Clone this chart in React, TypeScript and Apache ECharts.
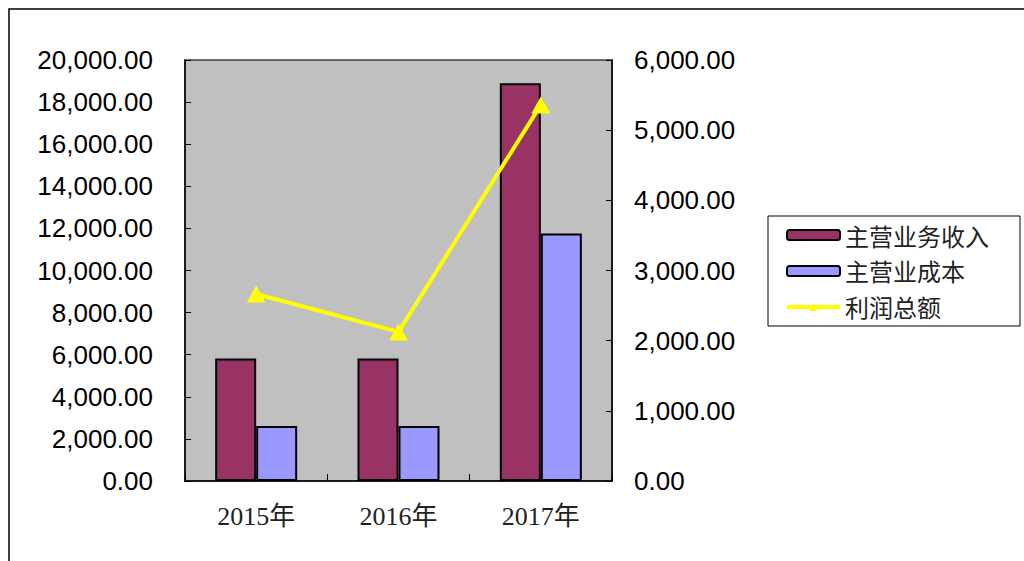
import React, { useEffect, useRef } from "react";
import * as echarts from "echarts";

const categories = ["2015年", "2016年", "2017年"];
const revenue = [5820, 5820, 18890];
const cost = [2615, 2615, 11760];
const profit = [2665, 2125, 5360];
const leftTicks = { min: 0, max: 20000, interval: 2000 };
const rightTicks = { min: 0, max: 6000, interval: 1000 };

const fmt = (v: number) => {
  const s = v.toFixed(2);
  const [i, d] = s.split(".");
  return i.replace(/\B(?=(\d{3})+(?!\d))/g, ",") + "." + d;
};

export default function App() {
  const ref = useRef<HTMLDivElement>(null);
  useEffect(() => {
    if (!ref.current) return;
    const chart = echarts.init(ref.current, undefined, { renderer: "svg" });
    const axisFont = { fontFamily: "Liberation Sans, Arial, sans-serif", fontSize: 26, color: "#000" };
    chart.setOption({
      animation: false,
      backgroundColor: "#fff",
      graphic: [
        {
          type: "rect",
          shape: { x: 9, y: 9, width: 1200, height: 700 },
          style: { fill: "none", stroke: "#000", lineWidth: 1.5 },
          silent: true,
          z: -1,
        },
      ],
      grid: {
        left: 185,
        top: 60,
        width: 427,
        height: 421,
        show: true,
        backgroundColor: "#C0C0C0",
        borderColor: "#404040",
        borderWidth: 1.5,
      },
      legend: {
        orient: "vertical",
        left: 768,
        top: 216,
        padding: [7, 31, 7, 17],
        itemGap: 12,
        itemWidth: 53,
        itemHeight: 10,
        borderColor: "#000",
        borderWidth: 1,
        backgroundColor: "#fff",
        textStyle: { fontFamily: "Noto Sans CJK SC, sans-serif", fontSize: 24, color: "#222" },
        data: [
          { name: "主营业务收入" },
          { name: "主营业成本" },
          { name: "利润总额", lineStyle: { width: 4, color: "#FFFF00" } },
        ],
      },
      xAxis: {
        type: "category",
        data: categories,
        axisLine: { show: true, lineStyle: { color: "#000", width: 1.5 } },
        axisTick: { show: true, inside: true, length: 7, lineStyle: { color: "#000" } },
        axisLabel: {
          margin: 22,
          fontFamily: "Liberation Serif, Times New Roman, Noto Sans CJK SC, serif",
          fontSize: 26,
          color: "#222",
        },
        splitLine: { show: false },
      },
      yAxis: [
        {
          type: "value",
          ...leftTicks,
          position: "left",
          axisLine: { show: true, lineStyle: { color: "#000", width: 1.5 } },
          axisTick: { show: true, inside: true, length: 6, lineStyle: { color: "#000" } },
          axisLabel: { ...axisFont, margin: 32, formatter: (v: number) => fmt(v) },
          splitLine: { show: false },
        },
        {
          type: "value",
          ...rightTicks,
          position: "right",
          axisLine: { show: true, lineStyle: { color: "#000", width: 1.5 } },
          axisTick: { show: true, inside: true, length: 6, lineStyle: { color: "#000" } },
          axisLabel: { ...axisFont, margin: 22, formatter: (v: number) => fmt(v) },
          splitLine: { show: false },
        },
      ],
      series: [
        {
          name: "主营业务收入",
          type: "bar",
          data: revenue,
          barWidth: 41,
          barGap: "0%",
          itemStyle: { color: "#993366", borderColor: "#000", borderWidth: 2 },
        },
        {
          name: "主营业成本",
          type: "bar",
          data: cost,
          barWidth: 41,
          barGap: "0%",
          itemStyle: { color: "#9999FF", borderColor: "#000", borderWidth: 2 },
        },
        {
          name: "利润总额",
          type: "line",
          yAxisIndex: 1,
          data: profit,
          symbol: "triangle",
          symbolSize: [19, 17],
          lineStyle: { color: "#FFFF00", width: 4 },
          itemStyle: { color: "#FFFF00" },
          z: 5,
        },
      ],
    });
    return () => chart.dispose();
  }, []);
  return (
    <div
      ref={ref}
      style={{ position: "fixed", left: 0, top: 0, width: 1024, height: 561 }}
    />
  );
}
